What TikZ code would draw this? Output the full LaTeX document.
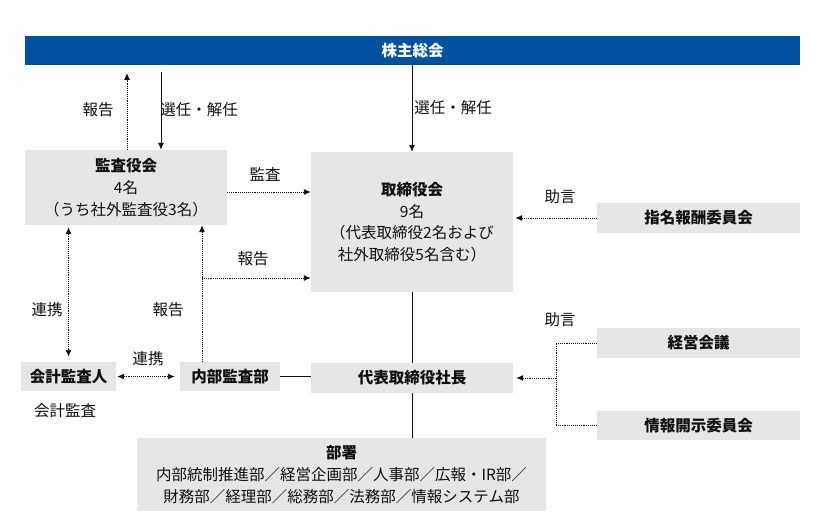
\documentclass[tikz,border=0pt]{standalone}
\usepackage{fontspec}
\setmainfont{Noto Sans CJK JP}
\usetikzlibrary{arrows.meta,calc}
\definecolor{boxgray}{RGB}{230,230,230}
\definecolor{barblue}{RGB}{0,82,160}
\definecolor{ink}{RGB}{15,15,15}
\begin{document}
\begin{tikzpicture}[x=1bp,y=-1bp,
  every node/.style={font=\fontsize{15.5bp}{22bp}\selectfont, text=ink, inner sep=0pt},
  box/.style={fill=boxgray, align=center},
  title/.style={font=\fontsize{15.5bp}{18bp}\selectfont\bfseries},
  lbl/.style={},
  tip/.style={-{Latex[length=7bp,width=6bp]}},
  dtip/.style={{Latex[length=7bp,width=6bp]}-{Latex[length=7bp,width=6bp]}},
  solidline/.style={draw=ink, line width=0.9bp},
  dotline/.style={draw=ink, line width=0.9bp, densely dotted}]
\useasboundingbox (0,0) rectangle (820,526);
% bar
\node[fill=barblue, minimum width=775bp, minimum height=29bp, title, text=white] (bar) at (412.5,50.5) {株主総会};
% boxes
\node[box, minimum width=202bp, minimum height=75bp] (kansa) at (126,187.5) {\textbf{監査役会}\\4名\\（うち社外監査役3名）};
\node[box, minimum width=202bp, minimum height=140bp, font=\fontsize{15.5bp}{21.5bp}\selectfont] (tori) at (412,222) {\textbf{取締役会}\\9名\\（代表取締役2名および\\社外取締役5名含む）};
\node[box, title, minimum width=203bp, minimum height=30bp] (shimei) at (698.5,218) {指名報酬委員会};
\node[box, title, minimum width=95bp, minimum height=29bp] (kaikei) at (68.5,376.5) {会計監査人};
\node[box, title, minimum width=100bp, minimum height=29bp] (naibu) at (230,376.5) {内部監査部};
\node[box, title, minimum width=202bp, minimum height=30bp] (shacho) at (412,378) {代表取締役社長};
\node[box, minimum width=409bp, minimum height=73bp] (busho) at (341.5,474.5) {\textbf{部署}\\内部統制推進部／経営企画部／人事部／広報・IR部／\\財務部／経理部／総務部／法務部／情報システム部};
\node[box, title, minimum width=203bp, minimum height=30bp] (keiei) at (698.5,343) {経営会議};
\node[box, title, minimum width=203bp, minimum height=29bp] (joho) at (698.5,425.5) {情報開示委員会};
% labels
\node[lbl] (l1) at (98,110) {報告};
\node[lbl] (l2) at (199,110) {選任・解任};
\node[lbl] (l3) at (453,108) {選任・解任};
\node[lbl] (l4) at (265,174) {監査};
\node[lbl] (l5) at (560,197) {助言};
\node[lbl] (l6) at (47,310) {連携};
\node[lbl] (l7) at (168,310) {報告};
\node[lbl] (l8) at (253,259) {報告};
\node[lbl] (l9) at (148,359) {連携};
\node[lbl] (l10) at (65,411) {会計監査};
\node[lbl] (l11) at (560,320) {助言};
% connectors
\coordinate (k1) at (127,73);
\coordinate (k2) at (161,72);
\draw[dotline, tip] (kansa.north -| k1) -- (k1);
\draw[solidline, tip] (k2) -- (kansa.north -| k2);
\draw[solidline, tip] (bar.south -| tori.north) -- (tori.north);
\coordinate (m1) at (227,192);
\draw[dotline, tip] (m1) -- (m1 -| tori.west);
\draw[dotline, tip, shorten >=2bp] (shimei.west) -- (shimei.west -| tori.east);
\coordinate (n1) at (202,278);
\draw[dotline, tip] (naibu.north -| n1) -- (kansa.south -| n1);
\draw[dotline, tip] (n1) -- (n1 -| tori.west);
\draw[dotline, dtip, shorten <=2bp, shorten >=5bp] (kansa.south -| kaikei.north) -- (kaikei.north);
\draw[dotline, dtip, shorten <=1bp, shorten >=5bp] (kaikei.east) -- (naibu.west);
\draw[solidline] (naibu.east) -- (naibu.east -| shacho.west);
\draw[solidline] (tori.south) -- (shacho.north);
\draw[solidline] (shacho.south) -- (shacho.south |- busho.north);
\coordinate (j) at (556,378);
\draw[dotline] (keiei.west) -| (j) |- (joho.west);
\draw[dotline, tip, shorten >=3bp] (j) -- (j -| shacho.east);
\end{tikzpicture}
\end{document}
